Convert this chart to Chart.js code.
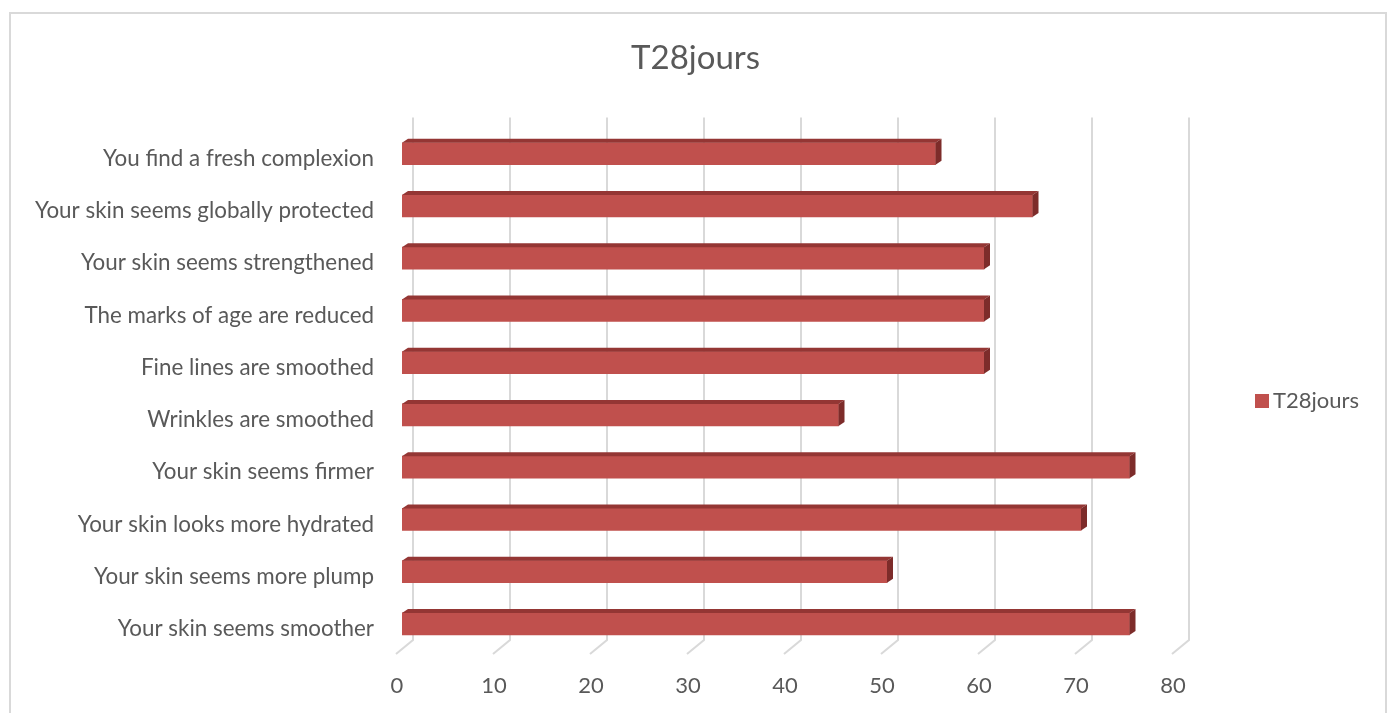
<!DOCTYPE html>
<html>
<head>
<meta charset="utf-8">
<title>T28jours</title>
<script src="https://cdn.jsdelivr.net/npm/chart.js@4.4.1/dist/chart.umd.min.js"></script>
<style>
  html, body { margin: 0; padding: 0; background: #ffffff; }
  #wrap { width: 1391px; height: 713px; position: relative; }
</style>
</head>
<body>
<div id="wrap"><canvas id="chart" width="1391" height="713"></canvas></div>
<script>
// Survey statements (top to bottom) and percentage of agreement after 28 days
const categories = [
  'You find a fresh complexion',
  'Your skin seems globally protected',
  'Your skin seems strengthened',
  'The marks of age are reduced',
  'Fine lines are smoothed',
  'Wrinkles are smoothed',
  'Your skin seems firmer',
  'Your skin looks more hydrated',
  'Your skin seems more plump',
  'Your skin seems smoother'
];
const t28jours = [55, 65, 60, 60, 60, 45, 75, 70, 50, 75];
const xTicks = [0, 10, 20, 30, 40, 50, 60, 70, 80];

const FONT = 'Lato, "Open Sans", "Liberation Sans", sans-serif';
const TEXT = '#595959';
const GRID = '#d9d9d9';
const FRONT = '#c0504d';
const TOP = '#943634';
const SIDE = '#7d2c2a';

// Depth of the extruded bars and of the back wall
const DX = 6, DY = 4;
const WALL = 11, FLOOR_DX = 6, FLOOR_DY = 14;

const frame = {
  id: 'frame',
  beforeDraw(chart) {
    const ctx = chart.ctx;
    ctx.save();
    ctx.fillStyle = '#ffffff';
    ctx.fillRect(0, 0, chart.width, chart.height);
    ctx.strokeStyle = GRID;
    ctx.lineWidth = 2;
    ctx.strokeRect(10, 13, 1376, 720);
    ctx.restore();
  }
};

// Back-wall gridlines folding onto the floor
const wallGrid = {
  id: 'wallGrid',
  beforeDatasetsDraw(chart) {
    const ctx = chart.ctx;
    const xs = chart.scales.x;
    const top = chart.chartArea.top - 10;
    const bottom = chart.chartArea.bottom - 10;
    ctx.save();
    ctx.strokeStyle = GRID;
    ctx.lineWidth = 2;
    xs.ticks.forEach(t => {
      const px = xs.getPixelForValue(t.value);
      ctx.beginPath();
      ctx.moveTo(px + WALL, top);
      ctx.lineTo(px + WALL, bottom);
      ctx.lineTo(px - FLOOR_DX, bottom + FLOOR_DY);
      ctx.stroke();
    });
    ctx.restore();
  }
};

// Top and side faces for each bar
const bar3d = {
  id: 'bar3d',
  afterDatasetsDraw(chart) {
    const ctx = chart.ctx;
    chart.getSortedVisibleDatasetMetas().forEach(meta => {
      meta.data.forEach(el => {
        const p = el.getProps(['x', 'y', 'base', 'height'], true);
        const t = p.y - p.height / 2, b = p.y + p.height / 2;
        ctx.save();
        ctx.fillStyle = TOP;
        ctx.beginPath();
        ctx.moveTo(p.base, t);
        ctx.lineTo(p.base + DX, t - DY);
        ctx.lineTo(p.x + DX, t - DY);
        ctx.lineTo(p.x, t);
        ctx.closePath();
        ctx.fill();
        ctx.fillStyle = SIDE;
        ctx.beginPath();
        ctx.moveTo(p.x, t);
        ctx.lineTo(p.x + DX, t - DY);
        ctx.lineTo(p.x + DX, b - DY);
        ctx.lineTo(p.x, b);
        ctx.closePath();
        ctx.fill();
        ctx.restore();
      });
    });
  }
};

// Legend entry on the right
const sideLegend = {
  id: 'sideLegend',
  afterDraw(chart) {
    const ctx = chart.ctx;
    const ds = chart.data.datasets[0];
    ctx.save();
    ctx.fillStyle = ds.backgroundColor;
    ctx.fillRect(1255, 394, 14, 14);
    ctx.fillStyle = TEXT;
    ctx.font = '22px ' + FONT;
    ctx.textBaseline = 'middle';
    ctx.textAlign = 'left';
    ctx.fillText(ds.label, 1273, 401);
    ctx.restore();
  }
};

new Chart(document.getElementById('chart'), {
  type: 'bar',
  data: {
    labels: categories,
    datasets: [{
      label: 'T28jours',
      data: t28jours,
      backgroundColor: FRONT,
      barThickness: 22,
      borderWidth: 0
    }]
  },
  options: {
    indexAxis: 'y',
    responsive: false,
    animation: false,
    layout: { padding: 0 },
    plugins: {
      legend: { display: false },
      tooltip: { enabled: false },
      title: {
        display: true,
        text: 'T28jours',
        color: TEXT,
        font: { family: FONT, size: 33, weight: 'normal', lineHeight: 1.2 },
        padding: { top: 39, bottom: 49 }
      }
    },
    scales: {
      x: {
        type: 'linear',
        min: 0,
        max: 80,
        afterBuildTicks(scale) { scale.ticks = xTicks.map(v => ({ value: v })); },
        afterFit(scale) { scale.height = 63; },
        grid: { display: false, drawTicks: false },
        border: { display: false },
        ticks: {
          color: TEXT,
          font: { family: FONT, size: 22 },
          padding: 23,
          labelOffset: -5,
          maxRotation: 0
        }
      },
      y: {
        afterFit(scale) { scale.width = 402; },
        grid: { display: false, drawTicks: false },
        border: { display: false },
        ticks: {
          color: TEXT,
          font: { family: FONT, size: 22.4 },
          padding: 28,
          labelOffset: 5,
          autoSkip: false
        }
      },
      // Empty right-hand strip that holds the legend
      legendSpace: {
        type: 'category',
        axis: 'y',
        position: 'right',
        afterFit(scale) { scale.width = 213; },
        grid: { display: false, drawTicks: false },
        border: { display: false },
        ticks: { display: false }
      }
    }
  },
  plugins: [frame, wallGrid, bar3d, sideLegend]
});
</script>
</body>
</html>
